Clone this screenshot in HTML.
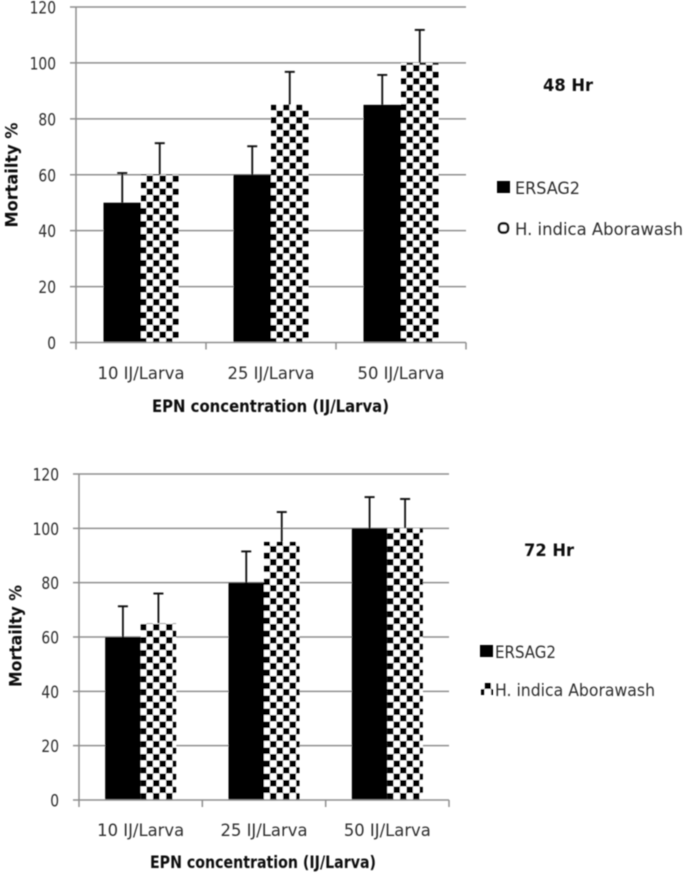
<!DOCTYPE html>
<html>
<head>
<meta charset="utf-8">
<style>
html,body{margin:0;padding:0;background:#fff;width:685px;height:873px;overflow:hidden}
svg{display:block}
text{font-family:"DejaVu Sans","Liberation Sans",sans-serif;fill:#2e2e2e}
.b{font-weight:bold;fill:#111}
</style>
</head>
<body>
<svg id="figure" width="685" height="873" viewBox="0 0 685 873" xmlns="http://www.w3.org/2000/svg">
<defs>
<pattern id="chk1" patternUnits="userSpaceOnUse" width="13" height="13" x="140" y="0">
<rect width="13" height="13" fill="#fff"/><rect width="6.5" height="6.5" fill="#000"/><rect x="6.5" y="6.5" width="6.5" height="6.5" fill="#000"/>
</pattern>
<filter id="soft" x="-5%" y="-5%" width="110%" height="110%"><feGaussianBlur stdDeviation="0.45"/></filter>
</defs>
<g id="plot" filter="url(#soft)"></g>
</svg>
<script>
var categories = ["10 IJ/Larva", "25 IJ/Larva", "50 IJ/Larva"];
var yTicks = [0, 20, 40, 60, 80, 100, 120];
var ersag48 = [50, 60, 85];
var indica48 = [60, 85, 100];
var ersagTop48 = [60.6, 70.2, 95.7];
var indicaTop48 = [71.3, 96.8, 111.8];
var ersag72 = [60, 80, 100];
var indica72 = [65, 95, 100];
var ersagTop72 = [71.3, 91.5, 111.5];
var indicaTop72 = [76, 106, 110.8];

var NS = "http://www.w3.org/2000/svg";
var root = document.getElementById("plot");

function mk(tag, attrs, name) {
  var el = document.createElementNS(NS, tag);
  for (var k in attrs) { el.setAttribute(k, attrs[k]); }
  
  
  root.appendChild(el);
  return el;
}
function label(str, attrs, name) {
  var el = mk("text", attrs, name);
  el.textContent = str;
  return el;
}

function drawChart(c) {
  var bandW = (c.x1 - c.x0) / categories.length;
  function yPos(v) { return c.y0 - (v / 120) * (c.y0 - c.y120); }
  function xPos(i) { return c.x0 + bandW * (i + 0.5); }

  yTicks.forEach(function (t) {
    var y = yPos(t);
    if (t > 0) { mk("line", {x1: c.x0 - 6, x2: c.x1, y1: y, y2: y, stroke: "#8f8f8f", "stroke-width": 1.5}, c.id + "-gridline-" + t); }
    label(String(t), {x: c.x0 - 20, y: y + 6.5, "text-anchor": "end", "font-size": 17, textLength: String(t).length * 8.8, lengthAdjust: "spacingAndGlyphs"}, c.id + "-y-tick-" + t);
  });

  categories.forEach(function (cat, i) {
    var cx = xPos(i);
    var a = c.a[i], b = c.b[i];
    mk("rect", {x: cx - c.barW, y: yPos(a), width: c.barW, height: c.y0 - yPos(a), fill: "#000"}, c.id + "-bar-ersag2-" + i);
    mk("rect", {x: cx, y: yPos(b), width: c.barW, height: c.y0 - yPos(b), fill: "url(#chk1)"}, c.id + "-bar-indica-" + i);
    [[cx - c.barW / 2, a, c.aTop[i], "ersag2"], [cx + c.barW / 2, b, c.bTop[i], "indica"]].forEach(function (e) {
      mk("line", {x1: e[0], x2: e[0], y1: yPos(e[1]), y2: yPos(e[2]), stroke: "#111", "stroke-width": 1.8}, c.id + "-error-" + e[3] + "-" + i);
      mk("line", {x1: e[0] - 5, x2: e[0] + 5, y1: yPos(e[2]), y2: yPos(e[2]), stroke: "#111", "stroke-width": 1.9}, c.id + "-error-cap-" + e[3] + "-" + i);
    });
    label(cat, {x: cx, y: c.catY, "text-anchor": "middle", "font-size": 16.5, textLength: 87, lengthAdjust: "spacingAndGlyphs"}, c.id + "-x-tick-" + i);
  });

  mk("line", {x1: c.x0, x2: c.x0, y1: c.y120, y2: c.y0 + 7, stroke: "#8f8f8f", "stroke-width": 1.5}, c.id + "-y-axis");
  mk("line", {x1: c.x0 - 6, x2: c.x1, y1: c.y0, y2: c.y0, stroke: "#8f8f8f", "stroke-width": 1.5}, c.id + "-x-axis");
  for (var i = 1; i <= categories.length; i++) {
    var tx = c.x0 + bandW * i;
    mk("line", {x1: tx, x2: tx, y1: c.y0, y2: c.y0 + 7, stroke: "#8f8f8f", "stroke-width": 1.5}, c.id + "-x-tickmark-" + i);
  }

  label("EPN concentration  (IJ/Larva)", {x: c.xTitleX, y: c.xTitleY, "text-anchor": "middle", "font-size": 16.5, "class": "b", textLength: c.xTitleW, lengthAdjust: "spacingAndGlyphs"}, c.id + "-x-axis-title");
  label("Mortailty %", {transform: "translate(" + c.yTitleX + "," + c.yTitleY + ") rotate(-90)", "text-anchor": "middle", "font-size": 16.5, "class": "b", textLength: c.yTitleW, lengthAdjust: "spacingAndGlyphs"}, c.id + "-y-axis-title");
  label(c.title, {x: c.titleX, y: c.titleY, "text-anchor": "middle", "font-size": 17, "class": "b", textLength: 50, lengthAdjust: "spacingAndGlyphs"}, c.id + "-title");

  mk("rect", {x: c.lgX, y: c.lgY1 - 6, width: 13, height: 12, fill: "#000"}, c.id + "-legend-swatch-ersag2");
  label("ERSAG2", {x: c.lgTx, y: c.lgY1 + 7, "font-size": 17, textLength: c.lgW1, lengthAdjust: "spacingAndGlyphs"}, c.id + "-legend-label-ersag2");
  if (c.round) {
    mk("rect", {x: c.lgMx, y: c.lgY2 - 4.5, width: 9, height: 9, rx: 3.5, fill: "#fff", stroke: "#111", "stroke-width": 2.4}, c.id + "-legend-swatch-indica");
  } else {
    mk("rect", {x: c.lgMx, y: c.lgY2 - 6, width: 12, height: 12, fill: "url(#chk1)"}, c.id + "-legend-swatch-indica");
  }
  label("H. indica Aborawash", {x: c.lgTx, y: c.lgY2 + 7, "font-size": 17, textLength: c.lgW2, lengthAdjust: "spacingAndGlyphs"}, c.id + "-legend-label-indica");
}

drawChart({id: "chart-48hr", title: "48 Hr", a: ersag48, b: indica48, aTop: ersagTop48, bTop: indicaTop48,
  x0: 76, x1: 466, y0: 342.5, y120: 7, barW: 37.5, catY: 379, xTitleX: 270.5, xTitleY: 412, xTitleW: 237,
  yTitleX: 17.5, yTitleY: 175, yTitleW: 105, titleX: 568, titleY: 91,
  lgX: 497, lgY1: 187, lgTx: 515, lgW1: 65, lgMx: 499, lgY2: 228, lgW2: 168, round: true});

drawChart({id: "chart-72hr", title: "72 Hr", a: ersag72, b: indica72, aTop: ersagTop72, bTop: indicaTop72,
  x0: 79, x1: 449, y0: 800, y120: 474, barW: 35.5, catY: 836, xTitleX: 263, xTitleY: 868, xTitleW: 226,
  yTitleX: 21.5, yTitleY: 636, yTitleW: 102, titleX: 549, titleY: 556,
  lgX: 480, lgY1: 651, lgTx: 495, lgW1: 61, lgMx: 481, lgY2: 689, lgW2: 160, round: false});
</script>
</body>
</html>
